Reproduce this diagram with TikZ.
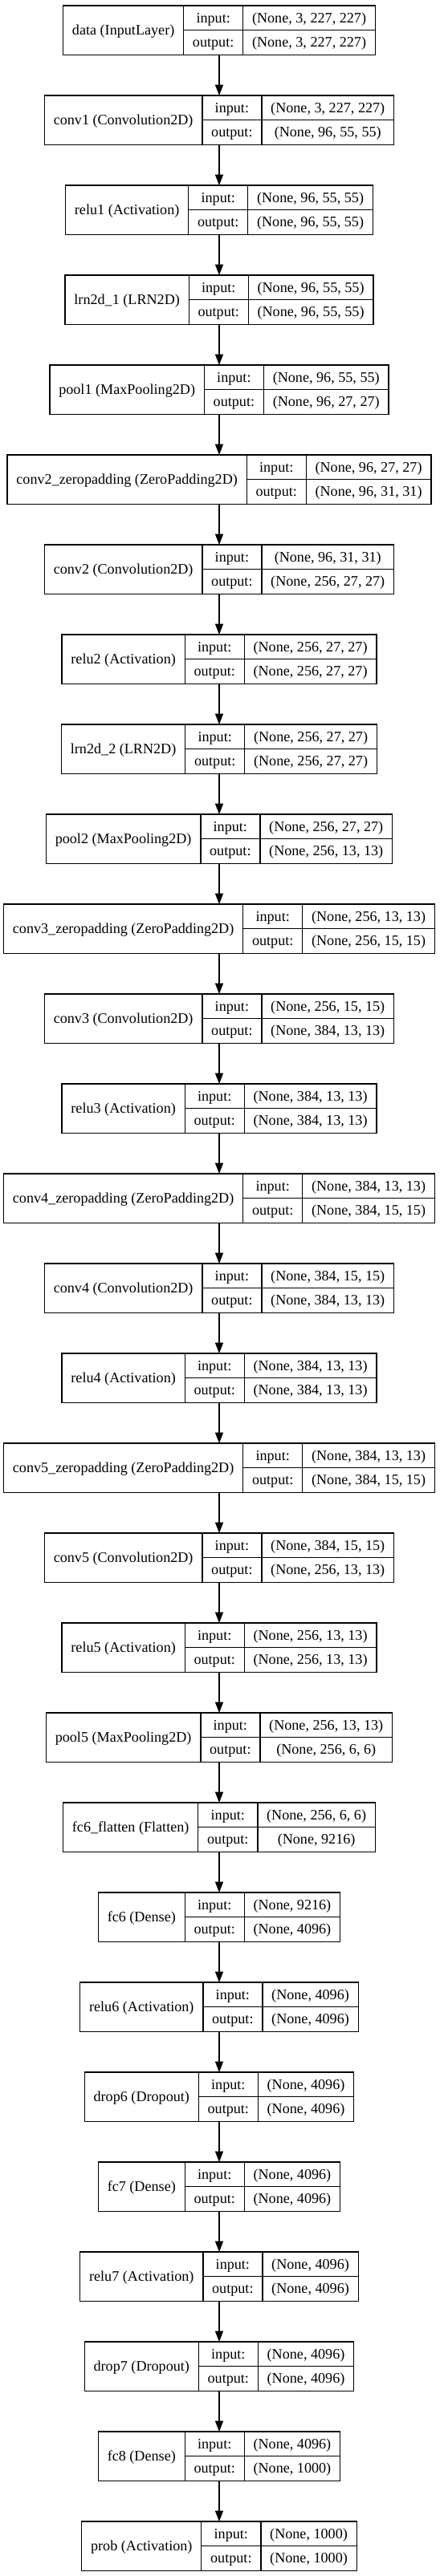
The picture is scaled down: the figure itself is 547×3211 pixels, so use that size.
\documentclass[tikz,border=0pt]{standalone}
\usepackage{fontspec}
\setmainfont{Liberation Serif}
\usetikzlibrary{arrows.meta}
\newlength\Lwa \newlength\Lwb \newlength\Lwc \newlength\Lwd
\newlength\Ltot \newlength\Lab \newlength\Ltmp
\newcommand\lfont{\fontsize{13.6pt}{16pt}\selectfont}
\newcommand\measureText[2]{\pgfinterruptpicture\settowidth\Ltmp{\lfont #2}\global#1=\Ltmp\endpgfinterruptpicture}
\tikzset{
  frame/.style={draw=none, inner sep=0pt, outer sep=0pt, rectangle},
  box/.style={draw=black, line width=1pt, inner sep=0pt, outer sep=0pt, rectangle},
  cell/.style={box, anchor=north west, font=\lfont, text height=11pt, text depth=2.5pt, align=center},
  arr/.style={draw=black, line width=1pt, -{Triangle[length=10pt,width=7.5pt]}},
}
\newcommand\kerasLayer[5]{%
  \measureText\Lwa{#3}\addtolength\Lwa{17pt}%
  \measureText\Lwb{output:}\addtolength\Lwb{17pt}%
  \measureText\Lwc{#4}\measureText\Lwd{#5}%
  \ifdim\Lwd>\Lwc \Lwc=\Lwd\fi
  \addtolength\Lwc{17pt}%
  \Ltot=\Lwa \addtolength\Ltot{\Lwb}\addtolength\Ltot{\Lwc}%
  \Lab=\Lwa \addtolength\Lab{\Lwb}%
  \node[frame, minimum width=\Ltot, minimum height=46.125pt] (#1) at (273,{#2+30.75}) {};
  \node[cell, minimum width=\Lwa, minimum height=46.125pt] (#1-name) at (#1.north west) {#3};
  \node[cell, minimum width=\Lwb, minimum height=23.0625pt] (#1-il) at ([xshift=\Lwa]#1.north west) {input:};
  \node[cell, minimum width=\Lwb, minimum height=23.0625pt] (#1-ol) at ([xshift=\Lwa,yshift=-23.0625pt]#1.north west) {output:};
  \node[cell, minimum width=\Lwc, minimum height=23.0625pt] (#1-iv) at ([xshift=\Lab]#1.north west) {#4};
  \node[cell, minimum width=\Lwc, minimum height=23.0625pt] (#1-ov) at ([xshift=\Lab,yshift=-23.0625pt]#1.north west) {#5};
}
\begin{document}
\begin{tikzpicture}[x=0.75pt,y=-0.75pt]
\useasboundingbox (0,0) rectangle (547,3211);
\kerasLayer{n01}{7}{data (InputLayer)}{(None, 3, 227, 227)}{(None, 3, 227, 227)}
\kerasLayer{n02}{119}{conv1 (Convolution2D)}{(None, 3, 227, 227)}{(None, 96, 55, 55)}
\kerasLayer{n03}{231}{relu1 (Activation)}{(None, 96, 55, 55)}{(None, 96, 55, 55)}
\kerasLayer{n04}{343}{lrn2d\_1 (LRN2D)}{(None, 96, 55, 55)}{(None, 96, 55, 55)}
\kerasLayer{n05}{455}{pool1 (MaxPooling2D)}{(None, 96, 55, 55)}{(None, 96, 27, 27)}
\kerasLayer{n06}{567}{conv2\_zeropadding (ZeroPadding2D)}{(None, 96, 27, 27)}{(None, 96, 31, 31)}
\kerasLayer{n07}{679}{conv2 (Convolution2D)}{(None, 96, 31, 31)}{(None, 256, 27, 27)}
\kerasLayer{n08}{791}{relu2 (Activation)}{(None, 256, 27, 27)}{(None, 256, 27, 27)}
\kerasLayer{n09}{903}{lrn2d\_2 (LRN2D)}{(None, 256, 27, 27)}{(None, 256, 27, 27)}
\kerasLayer{n10}{1015}{pool2 (MaxPooling2D)}{(None, 256, 27, 27)}{(None, 256, 13, 13)}
\kerasLayer{n11}{1127}{conv3\_zeropadding (ZeroPadding2D)}{(None, 256, 13, 13)}{(None, 256, 15, 15)}
\kerasLayer{n12}{1239}{conv3 (Convolution2D)}{(None, 256, 15, 15)}{(None, 384, 13, 13)}
\kerasLayer{n13}{1351}{relu3 (Activation)}{(None, 384, 13, 13)}{(None, 384, 13, 13)}
\kerasLayer{n14}{1463}{conv4\_zeropadding (ZeroPadding2D)}{(None, 384, 13, 13)}{(None, 384, 15, 15)}
\kerasLayer{n15}{1575}{conv4 (Convolution2D)}{(None, 384, 15, 15)}{(None, 384, 13, 13)}
\kerasLayer{n16}{1687}{relu4 (Activation)}{(None, 384, 13, 13)}{(None, 384, 13, 13)}
\kerasLayer{n17}{1799}{conv5\_zeropadding (ZeroPadding2D)}{(None, 384, 13, 13)}{(None, 384, 15, 15)}
\kerasLayer{n18}{1911}{conv5 (Convolution2D)}{(None, 384, 15, 15)}{(None, 256, 13, 13)}
\kerasLayer{n19}{2023}{relu5 (Activation)}{(None, 256, 13, 13)}{(None, 256, 13, 13)}
\kerasLayer{n20}{2135}{pool5 (MaxPooling2D)}{(None, 256, 13, 13)}{(None, 256, 6, 6)}
\kerasLayer{n21}{2247}{fc6\_flatten (Flatten)}{(None, 256, 6, 6)}{(None, 9216)}
\kerasLayer{n22}{2359}{fc6 (Dense)}{(None, 9216)}{(None, 4096)}
\kerasLayer{n23}{2471}{relu6 (Activation)}{(None, 4096)}{(None, 4096)}
\kerasLayer{n24}{2583}{drop6 (Dropout)}{(None, 4096)}{(None, 4096)}
\kerasLayer{n25}{2695}{fc7 (Dense)}{(None, 4096)}{(None, 4096)}
\kerasLayer{n26}{2807}{relu7 (Activation)}{(None, 4096)}{(None, 4096)}
\kerasLayer{n27}{2919}{drop7 (Dropout)}{(None, 4096)}{(None, 4096)}
\kerasLayer{n28}{3031}{fc8 (Dense)}{(None, 4096)}{(None, 1000)}
\kerasLayer{n29}{3143}{prob (Activation)}{(None, 1000)}{(None, 1000)}
\foreach \a/\b in {n01/n02,n02/n03,n03/n04,n04/n05,n05/n06,n06/n07,n07/n08,n08/n09,n09/n10,n10/n11,n11/n12,n12/n13,n13/n14,n14/n15,n15/n16,n16/n17,n17/n18,n18/n19,n19/n20,n20/n21,n21/n22,n22/n23,n23/n24,n24/n25,n25/n26,n26/n27,n27/n28,n28/n29}
  \draw[arr] (\a) -- (\b);
\end{tikzpicture}
\end{document}
